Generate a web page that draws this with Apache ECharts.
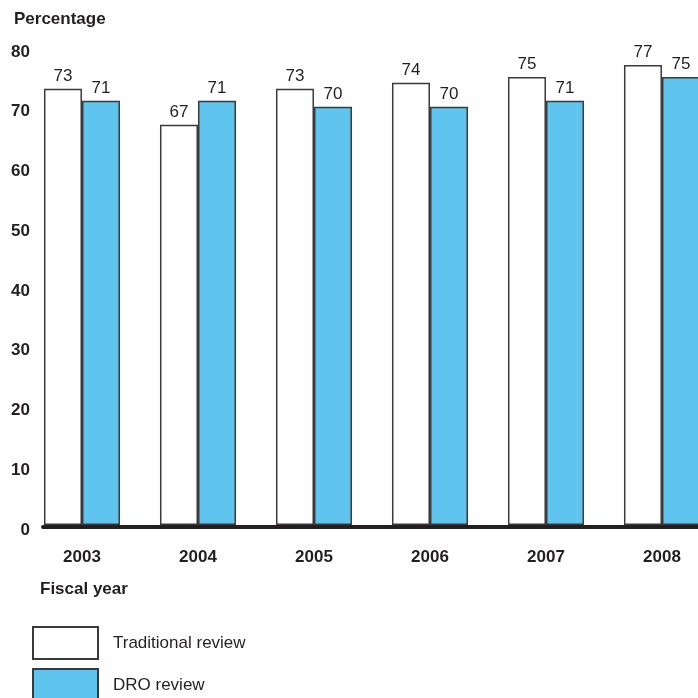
<!DOCTYPE html>
<html>
<head>
<meta charset="utf-8">
<script src="https://cdn.jsdelivr.net/npm/echarts@6/dist/echarts.min.js"></script>
<style>
html, body { margin: 0; padding: 0; background: #fff; }
#chart { width: 698px; height: 698px; }
</style>
</head>
<body>
<div id="chart"></div>
<script>
const years = ['2003', '2004', '2005', '2006', '2007', '2008'];
const traditional = [73, 67, 73, 74, 75, 77];
const dro = [71, 71, 70, 70, 71, 75];
const yTicks = [0, 10, 20, 30, 40, 50, 60, 70, 80];

const chart = echarts.init(document.getElementById('chart'));
const font = 'Liberation Sans, Arial, Helvetica, sans-serif';

function legendItem(name, top) {
    return {
        left: 32,
        top: top,
        padding: 0,
        itemWidth: 65,
        itemHeight: 32,
        icon: 'rect',
        selectedMode: false,
        textStyle: { fontSize: 17, color: '#231f20', padding: [0, 0, 0, 10] },
        data: [name]
    };
}

chart.setOption({
    backgroundColor: '#fff',
    animation: false,
    textStyle: { fontFamily: font },
    title: [
        {
            text: 'Percentage',
            left: 9,
            top: 6,
            textStyle: { fontSize: 17, fontWeight: 'bold', color: '#231f20', fontFamily: font }
        },
        {
            text: 'Fiscal year',
            left: 35,
            top: 576,
            textStyle: { fontSize: 17, fontWeight: 'bold', color: '#231f20', fontFamily: font }
        }
    ],
    legend: [
        legendItem('Traditional review', 626),
        legendItem('DRO review', 668)
    ],
    grid: {
        left: 43,
        right: 0,
        top: 47,
        bottom: 173
    },
    xAxis: {
        type: 'value',
        min: -0.336,
        max: 5.3106,
        offset: 2,
        splitLine: { show: false },
        axisTick: { show: false },
        axisLine: { show: true, onZero: false, lineStyle: { color: '#231f20', width: 4 } },
        axisLabel: {
            customValues: [0, 1, 2, 3, 4, 5],
            formatter: function (v) { return years[v]; },
            margin: 22,
            fontSize: 17,
            fontWeight: 'bold',
            color: '#231f20'
        }
    },
    yAxis: {
        type: 'value',
        min: 0,
        max: 80,
        interval: 10,
        splitLine: { show: false },
        axisTick: { show: false },
        axisLine: { show: false },
        axisLabel: {
            customValues: yTicks,
            margin: 13,
            verticalAlign: 'top',
            lineHeight: 10,
            fontSize: 17,
            fontWeight: 'bold',
            color: '#231f20'
        }
    },
    series: [
        {
            name: 'Traditional review',
            type: 'bar',
            barWidth: 38,
            barGap: '0%',
            data: traditional.map((v, i) => [i, v]),
            itemStyle: { color: '#ffffff', borderColor: '#3a3a3a', borderWidth: 1.5 },
            label: { show: true, position: 'top', distance: 4, fontSize: 17, color: '#231f20',
                formatter: p => p.value[1] }
        },
        {
            name: 'DRO review',
            type: 'bar',
            barWidth: 38,
            barGap: '0%',
            data: dro.map((v, i) => [i, v]),
            itemStyle: { color: '#60c5ee', borderColor: '#3a3a3a', borderWidth: 1.5 },
            label: { show: true, position: 'top', distance: 4, fontSize: 17, color: '#231f20',
                formatter: p => p.value[1] }
        }
    ]
});
</script>
</body>
</html>
